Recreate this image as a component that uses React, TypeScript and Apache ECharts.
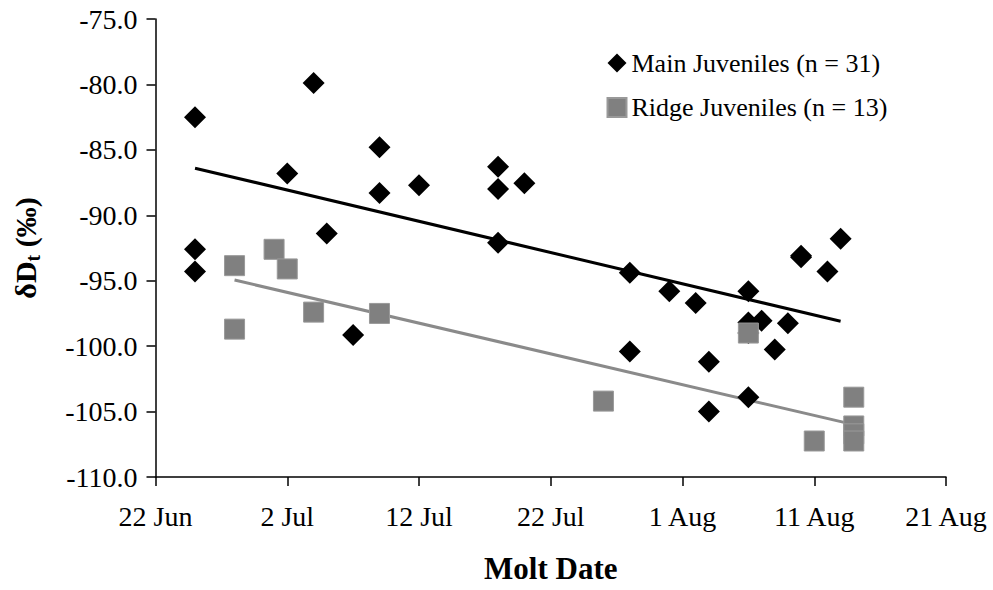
import React, { useEffect, useRef } from "react";
import * as echarts from "echarts";

// Molt dates are stored as days after 22 June.
const tickLabels = ["22 Jun", "2 Jul", "12 Jul", "22 Jul", "1 Aug", "11 Aug", "21 Aug"];

const mainDays = [3, 3, 3, 10, 12, 13, 15, 17, 17, 20, 26, 26, 26, 28, 36, 36, 39, 41, 42, 42, 45, 45, 45, 45, 46, 47, 48, 49, 49, 51, 52];
const mainValues = [
  -82.5, -92.6, -94.3, -86.8, -79.9, -91.4, -99.15, -84.8, -88.3, -87.7, -86.3, -88.0, -92.1, -87.55, -94.4, -100.4,
  -95.8, -96.7, -101.2, -105.0, -95.8, -98.2, -103.9, -99.0, -98.05, -100.25, -98.25, -93.1, -93.2, -94.3, -91.8,
];

const ridgeDays = [6, 6, 9, 10, 12, 17, 34, 45, 50, 53, 53, 53, 53];
const ridgeValues = [-93.85, -98.7, -92.6, -94.1, -97.4, -97.5, -104.2, -99.0, -107.25, -103.9, -106.1, -106.7, -107.25];

// Linear trend lines (endpoints)
const mainTrendDays = [3, 52];
const mainTrendValues = [-86.4, -98.1];
const ridgeTrendDays = [6, 53];
const ridgeTrendValues = [-94.95, -106.0];

const mainName = "Main Juveniles (n = 31)";
const ridgeName = "Ridge Juveniles (n = 13)";

const SERIF = "'Liberation Serif', 'Times New Roman', serif";

const zip = (xs: number[], ys: number[]) => xs.map((x, i) => [x, ys[i]]);

export default function App() {
  const ref = useRef<HTMLDivElement>(null);

  useEffect(() => {
    if (!ref.current) return;
    const chart = echarts.init(ref.current, undefined, { renderer: "svg" });
    chart.setOption({
      animation: false,
      backgroundColor: "#ffffff",
      textStyle: { fontFamily: SERIF, color: "#000" },
      grid: { left: 155.5, right: 47, top: 19, bottom: 113, containLabel: false },
      legend: {
        orient: "vertical",
        left: 606.5,
        top: 50,
        padding: 0,
        itemWidth: 19,
        itemHeight: 19,
        itemGap: 18.5,
        textStyle: { fontFamily: SERIF, fontSize: 26, color: "#000", lineHeight: 26 },
        data: [
          { name: mainName, icon: "diamond", itemStyle: { color: "#000", opacity: 1 } },
          { name: ridgeName, icon: "rect", itemStyle: { color: "#808080", opacity: 1 } },
        ],
      },
      xAxis: {
        type: "value",
        min: 0,
        max: 60,
        interval: 10,
        name: "Molt Date",
        nameLocation: "middle",
        nameGap: 76,
        nameTextStyle: { fontFamily: SERIF, fontSize: 31, fontWeight: "bold", color: "#000" },
        splitLine: { show: false },
        axisLine: { show: true, onZero: false, lineStyle: { color: "#000", width: 1.5 } },
        axisTick: { show: true, inside: false, length: 9, lineStyle: { color: "#000", width: 1.5 } },
        axisLabel: {
          fontFamily: SERIF,
          fontSize: 28,
          color: "#000",
          margin: 25,
          formatter: (v: number) => tickLabels[Math.round(v / 10)] ?? "",
        },
      },
      yAxis: {
        type: "value",
        min: -110,
        max: -75,
        interval: 5,
        name: "{d|δD}{s|t}{d| (‰)}",
        nameLocation: "middle",
        nameGap: 113,
        nameRotate: 90,
        nameTextStyle: {
          rich: {
            d: { fontFamily: SERIF, fontSize: 30, fontWeight: "bold", color: "#000", lineHeight: 34 },
            s: { fontFamily: SERIF, fontSize: 20, fontWeight: "bold", color: "#000", lineHeight: 34, verticalAlign: "bottom" },
          },
        },
        splitLine: { show: false },
        axisLine: { show: true, onZero: false, lineStyle: { color: "#000", width: 1.5 } },
        axisTick: { show: true, inside: false, length: 9, lineStyle: { color: "#000", width: 1.5 } },
        axisLabel: {
          fontFamily: SERIF,
          fontSize: 28,
          color: "#000",
          margin: 18,
          formatter: (v: number) => v.toFixed(1),
        },
      },
      series: [
        {
          name: "mainTrend",
          type: "line",
          data: zip(mainTrendDays, mainTrendValues),
          showSymbol: false,
          symbol: "none",
          lineStyle: { color: "#000", width: 3 },
          z: 1,
          silent: true,
        },
        {
          name: "ridgeTrend",
          type: "line",
          data: zip(ridgeTrendDays, ridgeTrendValues),
          showSymbol: false,
          symbol: "none",
          lineStyle: { color: "#8a8a8a", width: 3 },
          z: 1,
          silent: true,
        },
        {
          name: mainName,
          type: "scatter",
          symbol: "diamond",
          symbolSize: 22,
          itemStyle: { color: "#000", opacity: 1 },
          data: zip(mainDays, mainValues),
          z: 3,
        },
        {
          name: ridgeName,
          type: "scatter",
          symbol: "rect",
          symbolSize: 20,
          itemStyle: { color: "#808080", borderColor: "#999999", borderWidth: 1, opacity: 1 },
          data: zip(ridgeDays, ridgeValues),
          z: 4,
        },
      ],
    });
    return () => chart.dispose();
  }, []);

  return (
    <div
      ref={ref}
      style={{ position: "fixed", left: 0, top: 0, width: 993, height: 590, background: "#fff" }}
    />
  );
}
